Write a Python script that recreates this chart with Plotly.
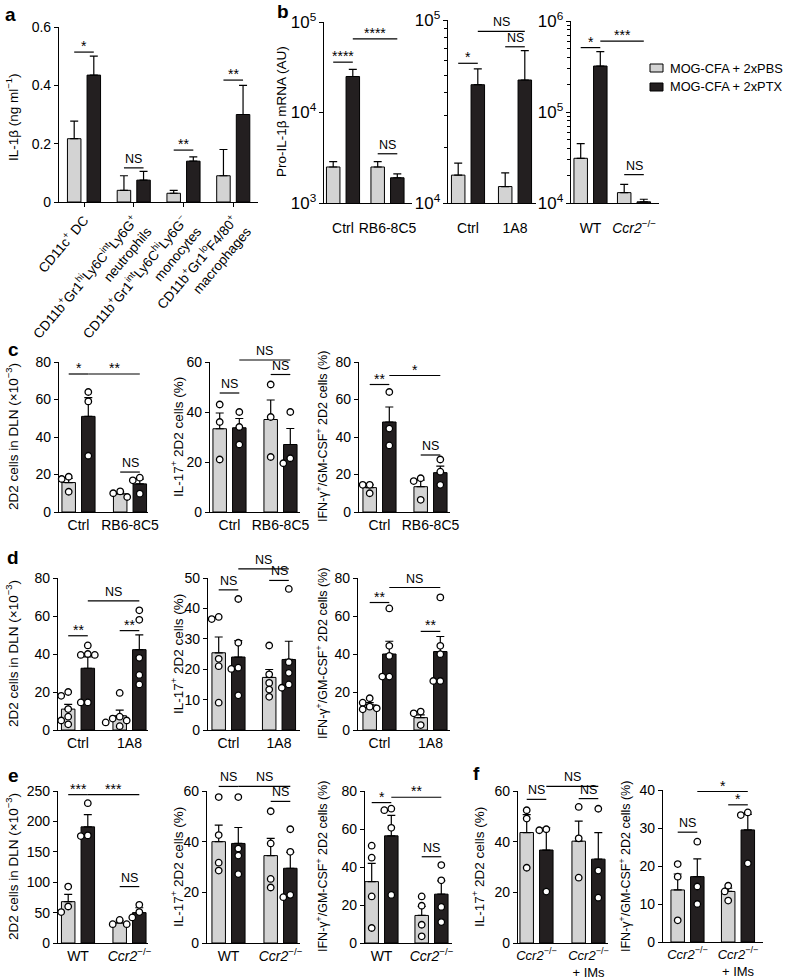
import numpy as np
import plotly.graph_objects as go

W, H = 788, 979
FONT = "Liberation Sans, Arial, Helvetica, sans-serif"
GRAY = "#d3d3d3"
DARK = "#231f20"

series_names = ["MOG-CFA + 2xPBS", "MOG-CFA + 2xPTX"]

# ---------------- panel a ----------------
a_labels = ["CD11c<sup>+</sup> DC",
            "CD11b<sup>+</sup>Gr1<sup>hi</sup>Ly6C<sup>int</sup>Ly6G<sup>+</sup><br>neutrophils",
            "CD11b<sup>+</sup>Gr1<sup>int</sup>Ly6C<sup>hi</sup>Ly6G<sup>−</sup><br>monocytes",
            "CD11b<sup>+</sup>Gr1<sup>lo</sup>F4/80<sup>+</sup><br>macrophages"]
a_pbs = [0.217, 0.040, 0.030, 0.090]
a_pbs_err = [0.060, 0.050, 0.010, 0.090]
a_ptx = [0.435, 0.075, 0.140, 0.300]
a_ptx_err = [0.065, 0.030, 0.015, 0.100]
a_sig = [(0, -1, 0, 1, 0.514, "*"), (1, -1, 1, 1, 0.117, "NS"),
         (2, -1, 2, 1, 0.178, "**"), (3, -1, 3, 1, 0.418, "**")]

# ---------------- panel b ----------------
b1_labels = ["Ctrl", "RB6-8C5"]
b1_pbs = [2500, 2500]
b1_pbs_err = [360, 360]
b1_ptx = [25000, 1900]
b1_ptx_err = [5000, 200]
b1_sig = [(0, -1, 0, 1, 36000, "****"), (0, 1, 1, 1, 65000, "****"), (1, -1, 1, 1, 3500, "NS")]

b2_labels = ["Ctrl", "1A8"]
b2_pbs = [14200, 12300]
b2_pbs_err = [2300, 2300]
b2_ptx = [44300, 47000]
b2_ptx_err = [9700, 21000]
b2_sig = [(0, -1, 0, 1, 58000, "*"), (0, 1, 1, 1, 86700, "NS"), (1, -1, 1, 1, 71400, "NS")]

b3_labels = ["WT", "<i>Ccr2</i><sup>−/−</sup>"]
b3_pbs = [31000, 13000]
b3_pbs_err = [14000, 3000]
b3_ptx = [320000, 10300]
b3_ptx_err = [140000, 700]
b3_sig = [(0, -1, 0, 1, 510000, "*"), (0, 1, 1, 1, 600000, "***"), (1, -1, 1, 1, 20500, "NS")]

# ---------------- panel c ----------------
c_labels = ["Ctrl", "RB6-8C5"]
c1_pbs = [15.7, 9.7]; c1_pbs_err = [2.2, 0.9]
c1_ptx = [51.0, 15.0]; c1_ptx_err = [10.0, 2.5]
c1_pbs_dots = [[18.8, 17.6, 10.8], [11.0, 10.0, 8.0]]
c1_ptx_dots = [[64.0, 59.0, 30.0], [18.3, 16.9, 9.8]]
c1_sig = [(0, -1, 0, 1, 73.6, "*"), (0, 1, 1, 1, 73.6, "**"), (1, -1, 1, 1, 21.3, "NS")]

c2_pbs = [33.3, 37.0]; c2_pbs_err = [6.3, 7.8]
c2_ptx = [33.7, 27.0]; c2_ptx_err = [3.7, 6.4]
c2_pbs_dots = [[43.0, 36.0, 21.0], [51.0, 38.0, 22.0]]
c2_ptx_dots = [[40.0, 34.0, 27.0], [40.0, 21.5, 19.5]]
c2_sig = [(0, -1, 0, 1, 47.6, "NS"), (0, 1, 1, 1, 60.8, "NS"), (1, -1, 1, 1, 55.0, "NS")]

c3_pbs = [13.0, 13.5]; c3_pbs_err = [1.5, 3.5]
c3_ptx = [48.0, 21.0]; c3_ptx_err = [8.0, 3.5]
c3_pbs_dots = [[14.5, 14.5, 10.0], [18.0, 16.5, 6.5]]
c3_ptx_dots = [[64.0, 44.5, 35.5], [28.0, 21.5, 14.5]]
c3_sig = [(0, -1, 0, 1, 68.0, "**"), (0, 1, 1, 1, 72.8, "*"), (1, -1, 1, 1, 30.4, "NS")]

# ---------------- panel d ----------------
d_labels = ["Ctrl", "1A8"]
d1_pbs = [11.0, 7.5]; d1_pbs_err = [2.5, 3.0]
d1_ptx = [32.5, 42.3]; d1_ptx_err = [6.0, 7.8]
d1_pbs_dots = [[20.0, 18.0, 11.0, 7.0, 5.0, 3.0], [19.5, 7.0, 6.0, 5.0, 4.0, 2.0]]
d1_ptx_dots = [[44.5, 40.0, 39.5, 39.5, 14.5, 14.5], [63.0, 58.0, 38.0, 29.0, 24.0]]
d1_sig = [(0, -1, 0, 1, 49.6, "**"), (0, 1, 1, 1, 68.0, "NS"), (1, -1, 1, 1, 52.3, "**")]

d2_pbs = [25.4, 17.3]; d2_pbs_err = [5.2, 2.6]
d2_ptx = [24.0, 23.2]; d2_ptx_err = [5.4, 6.0]
d2_pbs_dots = [[37.2, 36.5, 23.4, 21.0, 9.0], [27.8, 18.3, 15.5, 13.3, 10.9]]
d2_ptx_dots = [[43.1, 28.7, 20.5, 20.1, 11.4], [46.4, 22.3, 18.8, 15.0, 13.9]]
d2_sig = [(0, -1, 0, 1, 46.1, "NS"), (0, 1, 1, 1, 53.0, "NS"), (1, -1, 1, 1, 49.2, "NS")]

d3_pbs = [13.2, 6.5]; d3_pbs_err = [1.2, 1.5]
d3_ptx = [40.0, 41.3]; d3_ptx_err = [6.7, 7.9]
d3_pbs_dots = [[16.7, 14.4, 12.3, 11.4, 10.9], [9.7, 8.8, 2.6]]
d3_ptx_dots = [[64.0, 44.3, 39.0, 28.1, 28.1], [69.8, 44.3, 39.9, 25.8, 25.8]]
d3_sig = [(0, -1, 0, 1, 67.1, "**"), (0, 1, 1, 1, 75.0, "NS"), (1, -1, 1, 1, 51.9, "**")]

# ---------------- panel e ----------------
e_labels = ["WT", "<i>Ccr2</i><sup>−/−</sup>"]
e1_pbs = [68.0, 33.0]; e1_pbs_err = [12.0, 3.5]
e1_ptx = [191.0, 50.0]; e1_ptx_err = [20.0, 8.0]
e1_pbs_dots = [[92.8, 60.0, 50.8], [38.0, 31.0, 31.0]]
e1_ptx_dots = [[230.0, 177.0, 175.8], [62.8, 50.8, 42.0]]
e1_sig = [(0, -1, 0, 1, 244, "***"), (0, 1, 1, 1, 244, "***"), (1, -1, 1, 1, 92.8, "NS")]

e2_pbs = [40.0, 34.5]; e2_pbs_err = [6.5, 6.8]
e2_ptx = [39.3, 29.5]; e2_ptx_err = [6.3, 6.3]
e2_pbs_dots = [[57.6, 42.6, 31.7, 28.6], [52.0, 39.3, 25.3, 21.9]]
e2_ptx_dots = [[57.6, 37.3, 34.5, 27.2], [44.9, 36.0, 19.0, 18.1]]
e2_sig = [(0, -1, 0, 1, 61.8, "NS"), (0, 1, 1, 1, 61.8, "NS"), (1, -1, 1, 1, 55.9, "NS")]

e3_pbs = [32.3, 14.5]; e3_pbs_err = [9.6, 4.7]
e3_ptx = [56.4, 25.7]; e3_ptx_err = [10.8, 7.0]
e3_pbs_dots = [[51.2, 44.9, 24.5, 7.9], [24.5, 19.6, 9.6, 3.5]]
e3_ptx_dots = [[70.7, 69.9, 60.6, 25.3], [41.0, 33.0, 19.0, 11.0]]
e3_sig = [(0, -1, 0, 1, 73.9, "*"), (0, 1, 1, 1, 76.7, "**"), (1, -1, 1, 1, 45.4, "NS")]

# ---------------- panel f ----------------
f_labels = ["<i>Ccr2</i><sup>−/−</sup>", "<i>Ccr2</i><sup>−/−</sup><br>+ IMs"]
f1_pbs = [43.6, 40.2]; f1_pbs_err = [7.1, 7.9]
f1_ptx = [36.7, 33.1]; f1_ptx_err = [8.8, 10.5]
f1_pbs_dots = [[52.4, 49.1, 29.7], [53.7, 41.3, 25.8]]
f1_ptx_dots = [[44.9, 44.5, 20.3], [53.0, 28.6, 17.9]]
f1_sig = [(0, -1, 0, 1, 56.7, "NS"), (0, 1, 1, 1, 61.8, "NS"), (1, -1, 1, 1, 57.0, "NS")]

f2_pbs = [13.7, 13.3]; f2_pbs_err = [4.2, 0.9]
f2_ptx = [17.2, 29.5]; f2_ptx_err = [4.7, 4.1]
f2_pbs_dots = [[20.5, 17.2, 5.7], [14.8, 13.3, 10.9]]
f2_ptx_dots = [[26.4, 14.6, 10.0], [34.1, 33.4, 20.7]]
f2_sig = [(0, -1, 0, 1, 28.9, "NS"), (0, 1, 1, 1, 39.6, "*"), (1, -1, 1, 1, 36.1, "*")]

# axis titles
T_IL1B = "IL-1β (ng ml<sup>−1</sup>)"
T_PRO = "Pro-IL-1β mRNA (AU)"
T_2D2 = "2D2 cells in DLN (×10<sup>−3</sup>)"
T_IL17 = "IL-17<sup>+</sup> 2D2 cells (%)"
T_IFN = "IFN-γ<sup>+</sup>/GM-CSF<sup>+</sup> 2D2 cells (%)"

TICK = 14
TITLE = 13.5


def P(labels, pbs, pbs_err, ptx, ptx_err, sig, box, g0, step, yrange, dtick,
      title=None, tpos=None, pdots=None, xdots=None, log=False, xticks=False,
      tickangle=0, standoff=0, minor=False, xfont=TICK, tsize=TITLE, yfont=TICK):
    return dict(labels=labels, pbs=pbs, pbs_err=pbs_err, ptx=ptx, ptx_err=ptx_err,
                sig=sig, box=box, g0=g0, step=step, yrange=yrange, dtick=dtick,
                title=title, tpos=tpos, pdots=pdots, xdots=xdots, log=log,
                xticks=xticks, tickangle=tickangle, standoff=standoff, minor=minor,
                xfont=xfont, tsize=tsize, yfont=yfont)


panels = [
    P(a_labels, a_pbs, a_pbs_err, a_ptx, a_ptx_err, a_sig, (59, 258, 27, 202), 84, 49.75,
      [0, 0.6], 0.2, T_IL1B, (12, 117), xticks=True, tickangle=-50, xfont=13.5),
    P(b1_labels, b1_pbs, b1_pbs_err, b1_ptx, b1_ptx_err, b1_sig, (324, 412, 22, 203), 343, 44.5,
      [3, 5], 1, T_PRO, (281, 112), log=True, standoff=12, yfont=13.5),
    P(b2_labels, b2_pbs, b2_pbs_err, b2_ptx, b2_ptx_err, b2_sig, (448, 536, 20, 203), 468, 47,
      [4, 5], 1, log=True, standoff=12, minor=True, yfont=13.5),
    P(b3_labels, b3_pbs, b3_pbs_err, b3_ptx, b3_ptx_err, b3_sig, (571, 659, 21, 203), 590.5, 43.5,
      [4, 6], 1, log=True, standoff=12, minor=True, yfont=13.5),
    P(c_labels, c1_pbs, c1_pbs_err, c1_ptx, c1_ptx_err, c1_sig, (59, 148, 362, 512), 78.5, 51.5,
      [0, 80], 20, T_2D2, (12, 437), c1_pbs_dots, c1_ptx_dots),
    P(c_labels, c2_pbs, c2_pbs_err, c2_ptx, c2_ptx_err, c2_sig, (210, 300, 362, 512), 229.5, 51,
      [0, 60], 20, T_IL17, (177, 437), c2_pbs_dots, c2_ptx_dots),
    P(c_labels, c3_pbs, c3_pbs_err, c3_ptx, c3_ptx_err, c3_sig, (359, 450, 362, 512), 379.5, 51,
      [0, 80], 20, T_IFN, (322, 437), c3_pbs_dots, c3_ptx_dots, tsize=12.5),
    P(d_labels, d1_pbs, d1_pbs_err, d1_ptx, d1_ptx_err, d1_sig, (58, 148, 578, 730), 78, 51.5,
      [0, 80], 20, T_2D2, (12, 654), d1_pbs_dots, d1_ptx_dots),
    P(d_labels, d2_pbs, d2_pbs_err, d2_ptx, d2_ptx_err, d2_sig, (208, 300, 578, 730), 228.5, 50.5,
      [0, 50], 10, T_IL17, (177, 654), d2_pbs_dots, d2_ptx_dots),
    P(d_labels, d3_pbs, d3_pbs_err, d3_ptx, d3_ptx_err, d3_sig, (358, 450, 578, 730), 379.5, 51,
      [0, 80], 20, T_IFN, (322, 654), d3_pbs_dots, d3_ptx_dots, tsize=12.5),
    P(e_labels, e1_pbs, e1_pbs_err, e1_ptx, e1_ptx_err, e1_sig, (58, 148, 791, 943), 78, 51.5,
      [0, 250], 50, T_2D2, (12, 867), e1_pbs_dots, e1_ptx_dots),
    P(e_labels, e2_pbs, e2_pbs_err, e2_ptx, e2_ptx_err, e2_sig, (207, 300, 791, 943), 228.5, 52,
      [0, 60], 20, T_IL17, (177, 867), e2_pbs_dots, e2_ptx_dots),
    P(e_labels, e3_pbs, e3_pbs_err, e3_ptx, e3_ptx_err, e3_sig, (365, 452, 791, 943), 381.5, 50,
      [0, 80], 20, T_IFN, (322, 867), e3_pbs_dots, e3_ptx_dots, tsize=12.5),
    P(f_labels, f1_pbs, f1_pbs_err, f1_ptx, f1_ptx_err, f1_sig, (518, 608, 791, 943), 536.5, 52,
      [0, 60], 20, T_IL17, (478, 867), f1_pbs_dots, f1_ptx_dots, xfont=13),
    P(f_labels, f2_pbs, f2_pbs_err, f2_ptx, f2_ptx_err, f2_sig, (663, 763, 790, 942), 687.5, 50.5,
      [0, 40], 10, T_IFN, (625, 867), f2_pbs_dots, f2_ptx_dots, tsize=12.5, xfont=13),
]

panel_letters = [("a", 10, 14), ("b", 283, 12), ("c", 13, 350), ("d", 13, 557),
                 ("e", 13, 775), ("f", 476, 773)]

OFF_PX = 9.8     # bar centre offset from group centre
BW_PX = 13.5     # bar width
DOT_PX = 7.0     # dot spacing for swarm


def fx(px):
    return px / W


def fy(py):
    return 1 - py / H


def ypx(p, v):
    lo, hi = p["yrange"]
    x0, x1, yt, yb = p["box"]
    if p["log"]:
        v = np.log10(v)
    return yb - (v - lo) / (hi - lo) * (yb - yt)


def xpx(p, u):
    return p["g0"] + u * p["step"]


def swarm(p, values, centre_u):
    placed, xs = [], []
    for v in values:
        yp = ypx(p, v)
        chosen = 0.0
        for k in [0, -0.5, 0.5, -1, 1, -1.5, 1.5, -2, 2]:
            xp = k * DOT_PX
            if all((xp - a) ** 2 + (yp - b) ** 2 >= DOT_PX ** 2 * 0.9 for a, b in placed):
                chosen = xp
                break
        placed.append((chosen, yp))
        xs.append(centre_u + chosen / p["step"])
    return xs


fig = go.Figure()
shapes, annotations = [], []
layout_axes = {}

for i, p in enumerate(panels, start=1):
    xa = "x" if i == 1 else f"x{i}"
    ya = "y" if i == 1 else f"y{i}"
    n = len(p["labels"])
    idx = np.arange(n)
    off_u = OFF_PX / p["step"]
    bw_u = BW_PX / p["step"]
    for vals, errs, col, sgn, name in [(p["pbs"], p["pbs_err"], GRAY, -1, series_names[0]),
                                       (p["ptx"], p["ptx_err"], DARK, 1, series_names[1])]:
        fig.add_trace(go.Bar(
            x=idx + sgn * off_u, y=vals, width=bw_u, name=name, showlegend=False,
            marker=dict(color=col, line=dict(color="black", width=1)),
            error_y=dict(type="data", array=errs, arrayminus=[0] * n, symmetric=False,
                         color="black", thickness=1.2, width=4),
            xaxis=xa, yaxis=ya))
    for dots, sgn in [(p["pdots"], -1), (p["xdots"], 1)]:
        if dots is None:
            continue
        xs, ys = [], []
        for g, vals in enumerate(dots):
            xs += swarm(p, vals, g + sgn * off_u)
            ys += vals
        fig.add_trace(go.Scatter(
            x=xs, y=ys, mode="markers", showlegend=False, cliponaxis=False,
            marker=dict(size=6.5, color="white", line=dict(color="black", width=1.3)),
            xaxis=xa, yaxis=ya))

    x0, x1, yt, yb = p["box"]
    xr = [(x0 - p["g0"]) / p["step"], (x1 - p["g0"]) / p["step"]]
    xkey = "xaxis" if i == 1 else f"xaxis{i}"
    ykey = "yaxis" if i == 1 else f"yaxis{i}"
    xaxis = dict(domain=[fx(x0), fx(x1)], anchor=ya, range=xr, showline=True, linecolor="black",
                 linewidth=1.2, showgrid=False, zeroline=False, tickmode="array",
                 tickvals=list(idx), ticktext=p["labels"], tickangle=p["tickangle"],
                 ticks="outside" if p["xticks"] else "", ticklen=4, tickwidth=1.2,
                 tickcolor="black", tickfont=dict(size=p["xfont"], color="black", family=FONT),
                 fixedrange=True)
    if p["standoff"]:
        xaxis["ticklabelstandoff"] = p["standoff"]
    yaxis = dict(domain=[fy(yb), fy(yt)], anchor=xa, range=p["yrange"], showline=True,
                 linecolor="black", linewidth=1.2, showgrid=False, zeroline=False,
                 ticks="outside", ticklen=4, tickwidth=1.2, tickcolor="black",
                 tickfont=dict(size=p["yfont"], color="black", family=FONT), fixedrange=True,
                 dtick=p["dtick"])
    if p["log"]:
        yaxis.update(type="log", tick0=0, exponentformat="power", showexponent="all")
        if p["minor"]:
            yaxis["minor"] = dict(ticks="outside", ticklen=2.5, tickwidth=1,
                                  tickcolor="black", dtick="D1", showgrid=False)
    else:
        yaxis.update(tick0=0)
    layout_axes[xkey] = xaxis
    layout_axes[ykey] = yaxis

    if p["title"]:
        annotations.append(dict(x=fx(p["tpos"][0]), y=fy(p["tpos"][1]), xref="paper", yref="paper",
                                text=p["title"], textangle=-90, showarrow=False,
                                xanchor="center", yanchor="middle",
                                font=dict(size=p["tsize"], color="black", family=FONT)))

    for g0_, s0, g1_, s1, yv, lab in p["sig"]:
        xa_px = xpx(p, g0_ + s0 * off_u)
        xb_px = xpx(p, g1_ + s1 * off_u)
        y_px = ypx(p, yv)
        shapes.append(dict(type="line", xref="paper", yref="paper",
                           x0=fx(xa_px), x1=fx(xb_px), y0=fy(y_px), y1=fy(y_px),
                           line=dict(color="black", width=1.2)))
        star = lab != "NS"
        annotations.append(dict(x=fx((xa_px + xb_px) / 2), y=fy(y_px), xref="paper", yref="paper",
                                text=lab, showarrow=False, xanchor="center", yanchor="bottom",
                                yshift=-4 if star else 0,
                                font=dict(size=14 if star else 12.5, color="black", family=FONT)))

for lab, px_, py_ in panel_letters:
    annotations.append(dict(x=fx(px_), y=fy(py_), xref="paper", yref="paper", text=f"<b>{lab}</b>",
                            showarrow=False, xanchor="center", yanchor="middle",
                            font=dict(size=19, color="black", family=FONT)))

for k, (name, col) in enumerate(zip(series_names, [GRAY, DARK])):
    yc = 68 + k * 19
    shapes.append(dict(type="rect", xref="paper", yref="paper", x0=fx(650), x1=fx(663),
                       y0=fy(yc - 4), y1=fy(yc + 4), fillcolor=col,
                       line=dict(color="black", width=1)))
    annotations.append(dict(x=fx(668), y=fy(yc), xref="paper", yref="paper", text=name,
                            showarrow=False, xanchor="left", yanchor="middle",
                            font=dict(size=12.8, color="black", family=FONT)))

fig.update_layout(
    width=W, height=H, margin=dict(l=0, r=0, t=0, b=0),
    paper_bgcolor="white", plot_bgcolor="white", template="none",
    barmode="overlay", showlegend=False,
    font=dict(family=FONT, size=13, color="black"),
    shapes=shapes, annotations=annotations, **layout_axes)

fig.write_html("out.html", config={"displayModeBar": False},
               post_script="document.body.style.margin='0';")
